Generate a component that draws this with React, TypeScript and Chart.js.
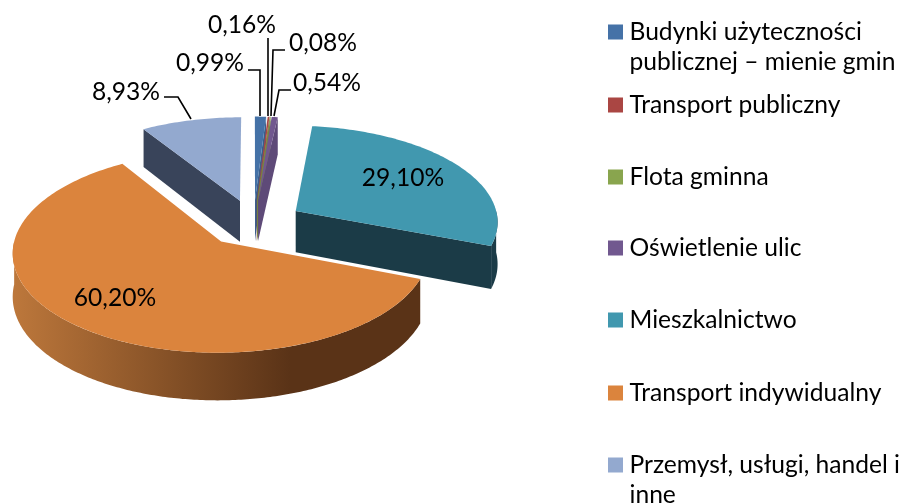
import React, { useEffect, useRef } from "react";
import { Chart, registerables } from "chart.js";

Chart.register(...registerables);

const categories = [
  ["Budynki użyteczności", "publicznej – mienie gmin"],
  ["Transport publiczny"],
  ["Flota gminna"],
  ["Oświetlenie ulic"],
  ["Mieszkalnictwo"],
  ["Transport indywidualny"],
  ["Przemysł, usługi, handel i", "inne"],
];
const shares = [0.99, 0.16, 0.08, 0.54, 29.1, 60.2, 8.93];
const topColors = ["#4572A7", "#AA4643", "#89A54E", "#71588F", "#4198AF", "#DB843D", "#93A9CF"];
const wallColors = ["#3A5F8C", "#8E3A38", "#728A41", "#5E4A78", "#1B3B47", "#5A3317", "#39445A"];

const FONT = "Lato, Carlito, Calibri, sans-serif";
const TILT = 0.473;
const PERSPECTIVE = 0.1;
const DEPTH = 42;
const LABEL_SIZE = 24.6;

// label anchors: [centre x, centre y, leader polyline]
const labelLayout: [number, number, number[][]][] = [
  [210, 63, [[248, 70], [260, 70], [260, 116]]],
  [242, 25, [[268, 38], [268, 116]]],
  [323, 43, [[285, 50], [273, 50], [271, 116]]],
  [327, 83, [[291, 90], [279, 90], [274, 116]]],
  [403, 178, []],
  [115, 298, []],
  [126, 92, [[164, 97], [178, 97], [191, 119]]],
];
const legendRows = [32, 105, 177, 248, 320, 393, 465];
const LEGEND_X = 608;
const LEGEND_TEXT_X = 629.5;
const LEGEND_BOX = 15;
const LEGEND_LINE = 30;

const pct = (v: number) => v.toFixed(2).replace(".", ",") + "%";

const pie3d = {
  id: "pie3d",
  beforeDatasetDraw(chart: any, args: any) {
    const ctx: CanvasRenderingContext2D = chart.ctx;
    const arcs = chart.getDatasetMeta(args.index).data;
    const project = (cx: number, cy: number, R: number, X: number, Y: number, z: number) => {
      const s = 1 / (1 - (PERSPECTIVE * Y) / R);
      return [cx + X * s, cy + Y * TILT * s + z * s];
    };
    const order = arcs
      .map((a: any, i: number) => ({ a, i, mid: (a.startAngle + a.endAngle) / 2 }))
      .sort((p: any, q: any) => Math.sin(p.mid) - Math.sin(q.mid));
    for (const { a, i, mid } of order) {
      const R = a.outerRadius;
      const off = a.options.offset;
      const ox = Math.cos(mid) * off;
      const oy = Math.sin(mid) * off;
      const pt = (ang: number, r: number, z: number) =>
        project(a.x, a.y, R, ox + Math.cos(ang) * r, oy + Math.sin(ang) * r, z);
      let wall: any = wallColors[i];
      if (i === 5) {
        const g = ctx.createLinearGradient(15, 0, 290, 0);
        g.addColorStop(0, "#BC773B");
        g.addColorStop(1, wallColors[i]);
        wall = g;
      }
      ctx.fillStyle = wall;
      const poly = (pts: number[][]) => {
        ctx.beginPath();
        pts.forEach((p, k) => (k ? ctx.lineTo(p[0], p[1]) : ctx.moveTo(p[0], p[1])));
        ctx.closePath();
        ctx.fill();
      };
      // radial faces turned to the viewer
      if (-Math.cos(a.startAngle) > 1e-3) {
        poly([pt(a.startAngle, 0, 0), pt(a.startAngle, R, 0), pt(a.startAngle, R, DEPTH), pt(a.startAngle, 0, DEPTH)]);
      }
      if (Math.cos(a.endAngle) > 1e-3) {
        poly([pt(a.endAngle, 0, 0), pt(a.endAngle, R, 0), pt(a.endAngle, R, DEPTH), pt(a.endAngle, 0, DEPTH)]);
      }
      // outer wall, front half only
      const steps = Math.max(2, Math.ceil(((a.endAngle - a.startAngle) * 180) / Math.PI));
      for (const k of [0, 2]) {
        const lo = Math.max(a.startAngle, k * Math.PI);
        const hi = Math.min(a.endAngle, (k + 1) * Math.PI);
        if (hi <= lo) continue;
        const upper: number[][] = [];
        const lower: number[][] = [];
        for (let n = 0; n <= steps; n++) {
          const t = lo + ((hi - lo) * n) / steps;
          upper.push(pt(t, R, 0));
          lower.unshift(pt(t, R, DEPTH));
        }
        poly(upper.concat(lower));
      }
      // top face
      const top: number[][] = [pt(mid, 0, 0)];
      for (let n = 0; n <= steps; n++) {
        top.push(pt(a.startAngle + ((a.endAngle - a.startAngle) * n) / steps, R, 0));
      }
      ctx.fillStyle = a.options.backgroundColor;
      poly(top);
    }
    return false;
  },
  afterDraw(chart: any) {
    const ctx: CanvasRenderingContext2D = chart.ctx;
    ctx.save();
    ctx.fillStyle = "#000";
    ctx.strokeStyle = "#000";
    ctx.lineWidth = 1.6;
    ctx.font = `${LABEL_SIZE}px ${FONT}`;
    ctx.textAlign = "center";
    ctx.textBaseline = "middle";
    shares.forEach((v, i) => {
      const [x, y, leader] = labelLayout[i];
      ctx.fillText(pct(v), x, y);
      if (leader.length) {
        ctx.beginPath();
        leader.forEach((p, k) => (k ? ctx.lineTo(p[0], p[1]) : ctx.moveTo(p[0], p[1])));
        ctx.stroke();
      }
    });
    ctx.textAlign = "left";
    categories.forEach((lines, i) => {
      const y = legendRows[i];
      ctx.fillStyle = topColors[i];
      ctx.fillRect(LEGEND_X, y - LEGEND_BOX / 2, LEGEND_BOX, LEGEND_BOX);
      ctx.fillStyle = "#000";
      lines.forEach((t, k) => ctx.fillText(t, LEGEND_TEXT_X, y + k * LEGEND_LINE));
    });
    ctx.restore();
  },
};

export default function App() {
  const ref = useRef<HTMLCanvasElement>(null);
  useEffect(() => {
    document.body.style.margin = "0";
    const chart = new Chart(ref.current!, {
      type: "pie",
      data: {
        labels: categories.map((c) => c.join(" ")),
        datasets: [
          {
            data: shares,
            backgroundColor: topColors,
            borderWidth: 0,
            offset: 50,
            hoverOffset: 0,
            radius: 203,
          } as any,
        ],
      },
      options: {
        responsive: false,
        animation: false,
        layout: { padding: { left: 0, right: 397, top: 0, bottom: 58 } },
        plugins: { legend: { display: false }, tooltip: { enabled: false } },
        events: [],
      },
      plugins: [pie3d],
    } as any);
    return () => chart.destroy();
  }, []);
  return <canvas ref={ref} width={904} height={504} style={{ display: "block" }} />;
}
